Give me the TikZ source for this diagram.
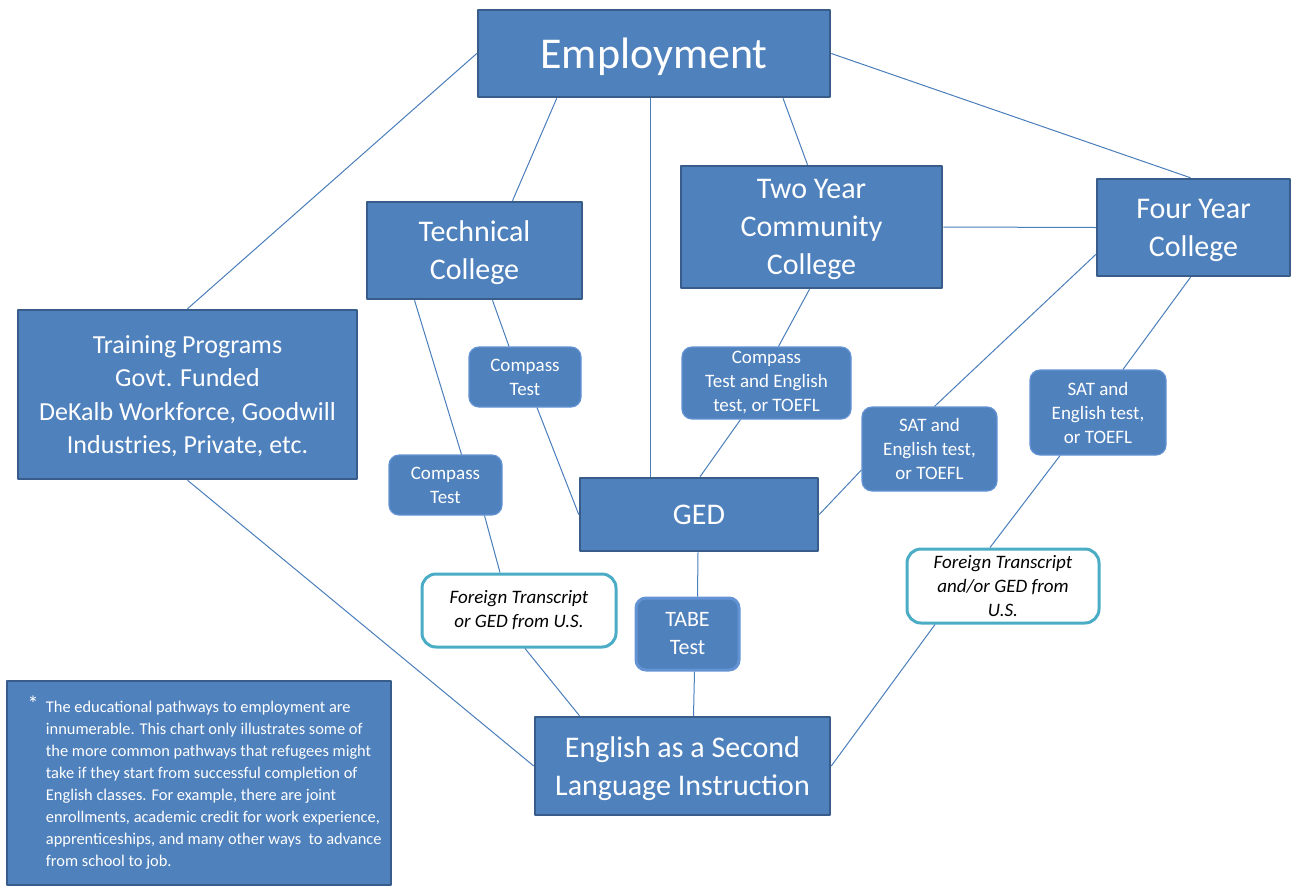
\documentclass[tikz,border=0pt]{standalone}
\usepackage{fontspec}
\setmainfont{Carlito}
\definecolor{boxfill}{HTML}{4F81BD}
\definecolor{boxedge}{HTML}{385D8A}
\definecolor{testedge}{HTML}{6393D4}
\definecolor{tealedge}{HTML}{4BACC6}
\definecolor{linkblue}{HTML}{4A7EBB}
\tikzset{
  bigbox/.style={draw=boxedge, line width=2.5pt, fill=boxfill, text=white, align=center, inner sep=2pt, text depth=0pt, font=\fontsize{30}{38}\selectfont},
  testbox/.style={draw=testedge, line width=1.2pt, fill=boxfill, rounded corners=10pt, text=white, align=center, inner sep=2pt, font=\fontsize{19}{24}\selectfont},
  frnbox/.style={draw=tealedge, line width=3pt, fill=white, rounded corners=14pt, align=center, inner sep=2pt, font=\fontsize{19}{24}\selectfont\itshape},
  link/.style={draw=linkblue, line width=1pt},
}
\begin{document}
\begin{tikzpicture}[x=1pt, y=-1pt, line join=round]
\useasboundingbox (0,0) rectangle (1295,887);
% top and colleges
\node[bigbox, minimum width=352pt, minimum height=87pt, font=\fontsize{44}{50}\selectfont] (emp) at (654,53.5) {Employment};
\node[bigbox, minimum width=215pt, minimum height=97pt] (tech) at (474.5,250.5) {Technical\\College};
\node[bigbox, minimum width=261pt, minimum height=122pt] (cc2) at (811.5,227) {Two Year\\Community\\College};
\node[bigbox, minimum width=193pt, minimum height=97pt] (col4) at (1193.5,227.5) {Four Year\\College};
\node[bigbox, minimum width=339pt, minimum height=169pt, font=\fontsize{26}{33.3}\selectfont] (train) at (187.5,394.5) {Training Programs\\Govt. Funded\\DeKalb Workforce, Goodwill\\Industries, Private, etc.};
% tests
\node[testbox, minimum width=112pt, minimum height=60pt] (cmpA) at (525,377) {Compass\\Test};
\node[testbox, minimum width=113pt, minimum height=60pt] (cmpB) at (445.5,485) {Compass\\Test};
\node[testbox, minimum width=169pt, minimum height=72pt] (cmpE) at (766.5,383) {Compass\\Test and English\\test, or TOEFL};
\node[testbox, minimum width=135pt, minimum height=84pt] (satL) at (929.5,449) {SAT and\\English test,\\or TOEFL};
\node[testbox, minimum width=136pt, minimum height=85pt] (satR) at (1098,412.5) {SAT and\\English test,\\or TOEFL};
\node[bigbox, minimum width=238pt, minimum height=73pt] (ged) at (699,514.5) {GED};
\node[testbox, line width=3pt, minimum width=103pt, minimum height=72pt, font=\fontsize{22}{28}\selectfont] (tabe) at (687.5,634) {TABE\\Test};
\node[frnbox, minimum width=194pt, minimum height=73pt] (frnL) at (519,610.5) {Foreign Transcript\\or GED from U.S.};
\node[frnbox, minimum width=192pt, minimum height=74pt] (frnR) at (1003,586) {Foreign Transcript\\and/or GED from\\U.S.};
\node[bigbox, minimum width=295pt, minimum height=98pt] (esl) at (682.5,766) {English as a Second\\Language Instruction};
% note
\node[bigbox, minimum width=384pt, minimum height=204pt] (note) at (199,783) {};
\node[anchor=west, text=white, align=left, inner sep=0pt, font=\fontsize{16.4}{22}\selectfont] (notetext) at ([xshift=40pt]note.west) {\llap{\raisebox{1pt}{\fontsize{22}{22}\selectfont *}\ \ }The educational pathways to employment are\\innumerable. This chart only illustrates some of\\the more common pathways that refugees might\\take if they start from successful completion of\\English classes. For example, there are joint\\enrollments, academic credit for work experience,\\apprenticeships, and many other ways\ \ to advance\\from school to job.};
% connectors
\draw[link] (emp.west) -- (train.north);
\draw[link] ([xshift=80pt]emp.south west) -- ([xshift=38pt]tech.north);
\draw[link] ([xshift=-4pt]emp.south) -- ([xshift=-49pt]ged.north);
\draw[link] ([xshift=129pt]emp.south) -- ([xshift=-4pt]cc2.north);
\draw[link] (emp.east) -- ([xshift=-3pt]col4.north);
\draw[link] (cc2.east) -- (col4.west);
\draw[link] ([xshift=-60pt]tech.south) -- ([xshift=16pt]cmpB.north);
\draw[link] ([xshift=18pt]tech.south) -- ([xshift=-16pt]cmpA.north);
\draw[link] ([xshift=12pt]cmpA.south) -- (ged.west);
\draw[link] ([xshift=39pt]cmpB.south) -- ([xshift=-19pt]frnL.north);
\draw[link] ([xshift=6pt]frnL.south) -- ([xshift=-103pt]esl.north);
\draw[link] (train.south) -- (esl.west);
\draw[link] ([xshift=-2pt]cc2.south) -- ([xshift=12pt]cmpE.north);
\draw[link] ([xshift=-26pt]cmpE.south) -- ([xshift=1pt]ged.north);
\draw[link] ([yshift=-27pt]col4.west) -- ([xshift=5pt]satL.north);
\draw[link] ([yshift=-21pt]satL.west) -- (ged.east);
\draw[link] ([xshift=-3pt]col4.south) -- ([xshift=25pt]satR.north);
\draw[link] ([xshift=-38pt]satR.south) -- ([xshift=-13pt]frnR.north);
\draw[link] ([xshift=-68pt]frnR.south) -- (esl.east);
\draw[link] ([xshift=-1pt]ged.south) -- ([xshift=10pt]tabe.north);
\draw[link] ([xshift=7pt]tabe.south) -- ([xshift=11pt]esl.north);
\end{tikzpicture}
\end{document}
